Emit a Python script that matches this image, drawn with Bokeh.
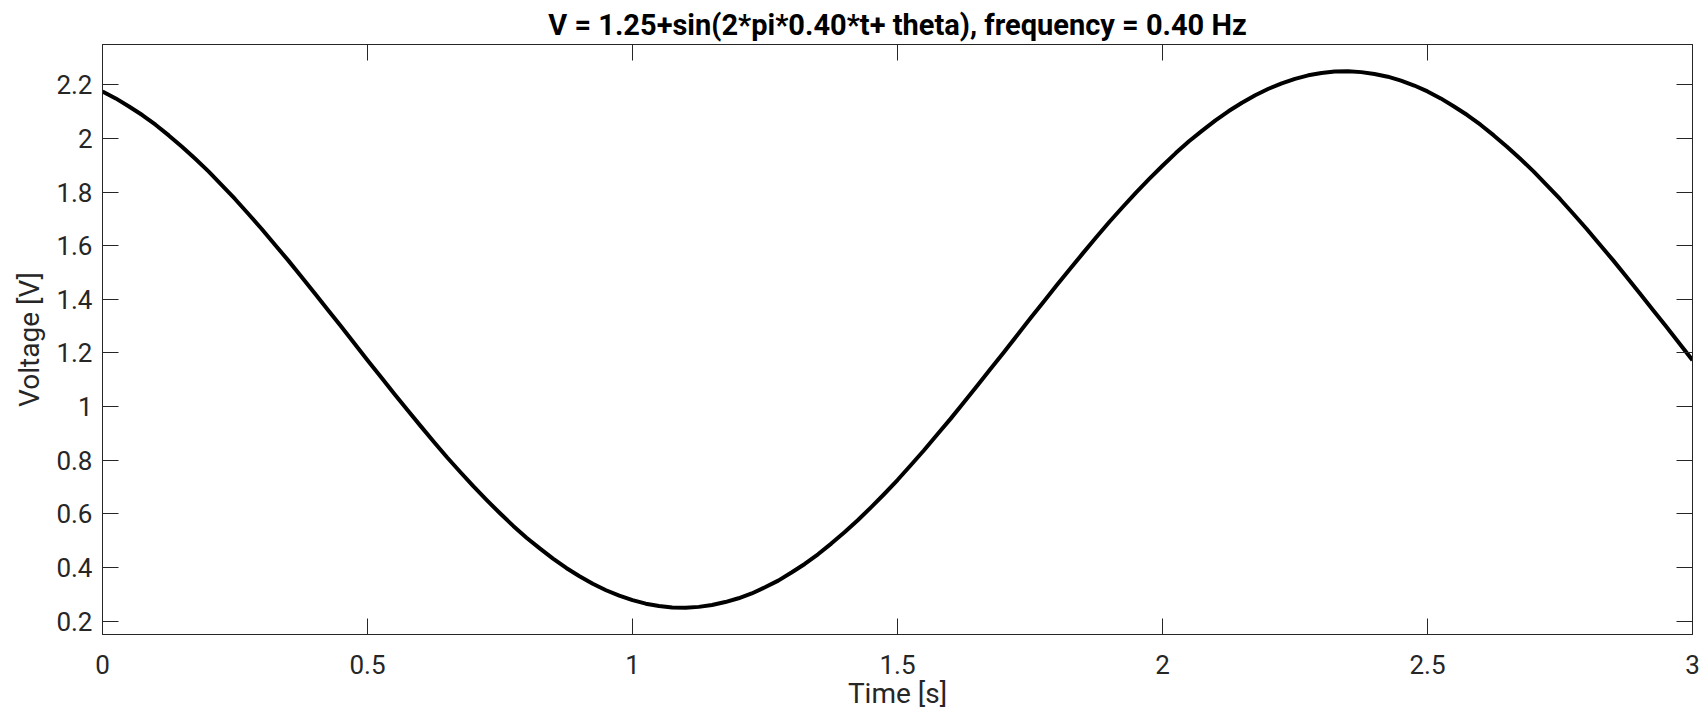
from bokeh.plotting import figure
from bokeh.models import Range1d, LinearAxis, FixedTicker, CustomJSTickFormatter
from bokeh.embed import file_html
from bokeh.resources import INLINE

# Data (time in s, voltage in V)
time_s = [0.000, 0.025, 0.050, 0.075, 0.100, 0.125, 0.150, 0.175, 0.200, 0.225,
          0.250, 0.275, 0.300, 0.325, 0.350, 0.375, 0.400, 0.425, 0.450, 0.475,
          0.500, 0.525, 0.550, 0.575, 0.600, 0.625, 0.650, 0.675, 0.700, 0.725,
          0.750, 0.775, 0.800, 0.825, 0.850, 0.875, 0.900, 0.925, 0.950, 0.975,
          1.000, 1.025, 1.050, 1.075, 1.100, 1.125, 1.150, 1.175, 1.200, 1.225,
          1.250, 1.275, 1.300, 1.325, 1.350, 1.375, 1.400, 1.425, 1.450, 1.475,
          1.500, 1.525, 1.550, 1.575, 1.600, 1.625, 1.650, 1.675, 1.700, 1.725,
          1.750, 1.775, 1.800, 1.825, 1.850, 1.875, 1.900, 1.925, 1.950, 1.975,
          2.000, 2.025, 2.050, 2.075, 2.100, 2.125, 2.150, 2.175, 2.200, 2.225,
          2.250, 2.275, 2.300, 2.325, 2.350, 2.375, 2.400, 2.425, 2.450, 2.475,
          2.500, 2.525, 2.550, 2.575, 2.600, 2.625, 2.650, 2.675, 2.700, 2.725,
          2.750, 2.775, 2.800, 2.825, 2.850, 2.875, 2.900, 2.925, 2.950, 2.975,
          3.000]
voltage_v = [2.175, 2.149, 2.119, 2.087, 2.051, 2.011, 1.969, 1.924, 1.877, 1.826,
             1.774, 1.719, 1.663, 1.604, 1.546, 1.485, 1.423, 1.361, 1.299, 1.236,
             1.173, 1.111, 1.049, 0.988, 0.928, 0.869, 0.811, 0.756, 0.702, 0.651,
             0.602, 0.555, 0.511, 0.471, 0.433, 0.398, 0.367, 0.339, 0.315, 0.295,
             0.278, 0.265, 0.256, 0.251, 0.250, 0.253, 0.260, 0.271, 0.285, 0.303,
             0.326, 0.351, 0.381, 0.413, 0.449, 0.489, 0.531, 0.576, 0.624, 0.674,
             0.726, 0.781, 0.837, 0.896, 0.954, 1.015, 1.077, 1.139, 1.201, 1.264,
             1.327, 1.389, 1.451, 1.512, 1.572, 1.631, 1.689, 1.744, 1.798, 1.849,
             1.898, 1.945, 1.989, 2.029, 2.067, 2.102, 2.133, 2.161, 2.185, 2.205,
             2.222, 2.235, 2.244, 2.249, 2.250, 2.247, 2.240, 2.230, 2.215, 2.197,
             2.175, 2.149, 2.119, 2.087, 2.051, 2.011, 1.969, 1.924, 1.877, 1.826,
             1.774, 1.719, 1.663, 1.604, 1.546, 1.485, 1.423, 1.361, 1.299, 1.236,
             1.173]

x_ticks = [0, 0.5, 1, 1.5, 2, 2.5, 3]
x_tick_labels = ["0", "0.5", "1", "1.5", "2", "2.5", "3"]
y_ticks = [0.2, 0.4, 0.6, 0.8, 1.0, 1.2, 1.4, 1.6, 1.8, 2.0, 2.2]
y_tick_labels = ["0.2", "0.4", "0.6", "0.8", "1", "1.2", "1.4", "1.6", "1.8", "2", "2.2"]

title_text = "V = 1.25+sin(2*pi*0.40*t+ theta), frequency = 0.40 Hz"
x_label = "Time [s]"
y_label = "Voltage [V]"

AX = "#262626"
FONT = "Roboto"

p = figure(width=1700, height=712, output_backend="svg", toolbar_location=None,
           x_range=Range1d(0, 3), y_range=Range1d(0.15, 2.35),
           min_border_left=102, min_border_right=8, min_border_top=44, min_border_bottom=78,
           background_fill_color="white", border_fill_color="white")

p.title.text = title_text
p.title.align = "center"
p.title.text_font = FONT
p.title.text_font_size = "29px"
p.title.text_font_style = "bold"
p.title.text_color = "black"
p.title.standoff = 5

p.outline_line_color = AX
p.outline_line_width = 1
p.grid.visible = False

p.line(time_s, voltage_v, line_color="black", line_width=4, line_join="round")

def style_axis(ax, ticks, labels, show_labels=True):
    ax.ticker = FixedTicker(ticks=ticks)
    ax.major_tick_in = 16
    ax.major_tick_out = 0
    ax.minor_tick_line_color = None
    ax.major_tick_line_color = AX
    ax.major_tick_line_width = 1
    ax.axis_line_color = AX
    ax.axis_line_width = 1
    ax.major_label_text_font = FONT
    ax.major_label_text_color = AX
    if show_labels:
        ax.major_label_overrides = {t: l for t, l in zip(ticks, labels)}
        ax.major_label_text_font_size = "26px"
    else:
        ax.formatter = CustomJSTickFormatter(code="return '';")
        ax.major_label_text_font_size = "1px"
        ax.major_label_standoff = 0

xa = p.xaxis[0]
ya = p.yaxis[0]
style_axis(xa, x_ticks, x_tick_labels)
style_axis(ya, y_ticks, y_tick_labels)
xa.major_label_standoff = 20
ya.major_label_standoff = 10
for ax, lab in ((xa, x_label), (ya, y_label)):
    ax.axis_label = lab
    ax.axis_label_text_font = FONT
    ax.axis_label_text_font_size = "28px"
    ax.axis_label_text_font_style = "normal"
    ax.axis_label_text_color = AX
xa.axis_label_standoff = 0
ya.axis_label_standoff = 7

top_ax = LinearAxis()
style_axis(top_ax, x_ticks, x_tick_labels, show_labels=False)
p.add_layout(top_ax, "above")
right_ax = LinearAxis()
style_axis(right_ax, y_ticks, y_tick_labels, show_labels=False)
p.add_layout(right_ax, "right")

open("out.html", "w").write(file_html(p, INLINE))
